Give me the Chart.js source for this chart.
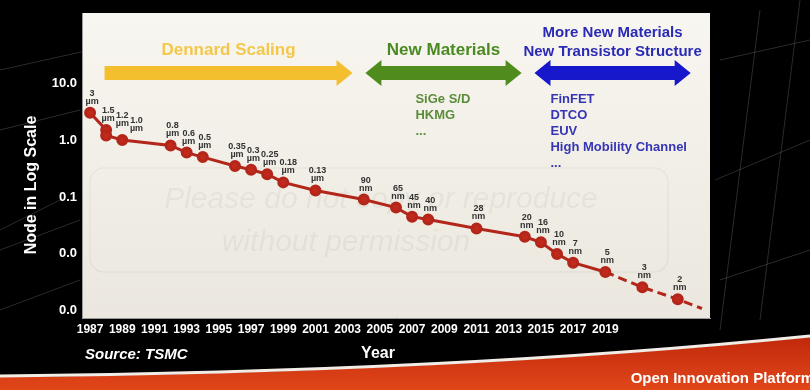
<!DOCTYPE html>
<html>
<head>
<meta charset="utf-8">
<script src="https://cdn.jsdelivr.net/npm/chart.js@4.4.0/dist/chart.umd.min.js"></script>
<style>
html,body{margin:0;padding:0;background:#000;}
#wrap{width:810px;height:390px;}
</style>
</head>
<body>
<div id="wrap"><canvas id="nodeChart"></canvas></div>
<script>
// process nodes (value in µm), last point is the dashed extrapolation end
const years=[1987,1988,1988,1989,1992,1993,1994,1996,1997,1998,1999,2001,2004,2006,2007,2008,2011,2014,2015,2016,2017,2019,2021.3,2023.5,2025];
const nodes=[3,1.5,1.2,1.0,0.8,0.6,0.5,0.35,0.3,0.25,0.18,0.13,0.09,0.065,0.045,0.04,0.028,0.02,0.016,0.01,0.007,0.0048,0.0026,0.0016,0.0011];
const nodeLabels=["3 µm","1.5 µm","1.2 µm","1.0 µm","0.8 µm","0.6 µm","0.5 µm","0.35 µm","0.3 µm","0.25 µm","0.18 µm","0.13 µm",
  "90 nm","65 nm","45 nm","40 nm","28 nm","20 nm","16 nm","10 nm","7 nm","5 nm","3 nm","2 nm",""];
const xTicks=[1987,1989,1991,1993,1995,1997,1999,2001,2003,2005,2007,2009,2011,2013,2015,2017,2019];
const yTicks=[10,1,0.1,0.01,0.001];

// eras shown as arrows over the chart
const eraNames=[["Dennard Scaling"],["New Materials"],["More New Materials","New Transistor Structure"]];
const eraFrom=[1987.9,2004.1,2014.6];
const eraTo=[2003.3,2013.8,2024.3];
const eraItems=[[],["SiGe S/D","HKMG","..."],["FinFET","DTCO","EUV","High Mobility Channel","..."]];
const eraColors=["#f4bf2e","#4f8c1d","#1717cc"];
const eraTextColors=["#f3c84a","#4a8a22","#2a2ab4"];
const eraItemColors=["#000","#5b8c3a","#3535b5"];

const FONT="'Liberation Sans', Arial, sans-serif";
const splitYear=2019;

const points=years.map((y,i)=>({x:y,y:nodes[i]}));

function arrow(ctx,x1,x2,y,color,both){
  const h=7,hh=13,hl=16;
  ctx.fillStyle=color;
  ctx.beginPath();
  if(both){
    ctx.moveTo(x1,y);
    ctx.lineTo(x1+hl,y-hh);ctx.lineTo(x1+hl,y-h);
  }else{
    ctx.moveTo(x1,y-h);
  }
  ctx.lineTo(x2-hl,y-h);ctx.lineTo(x2-hl,y-hh);ctx.lineTo(x2,y);
  ctx.lineTo(x2-hl,y+hh);ctx.lineTo(x2-hl,y+h);
  if(both){
    ctx.lineTo(x1+hl,y+h);ctx.lineTo(x1+hl,y+hh);
  }else{
    ctx.lineTo(x1,y+h);
  }
  ctx.closePath();ctx.fill();
}

const backdrop={
  id:'backdrop',
  beforeDraw(chart){
    const {ctx,chartArea:a,width:W,height:H}=chart;
    ctx.save();
    ctx.fillStyle='#000';ctx.fillRect(0,0,W,H);
    // faint streaks in the slide background
    ctx.strokeStyle='rgba(120,120,120,0.35)';ctx.lineWidth=1;
    [[0,70,90,50],[0,130,80,110],[0,250,80,220],[0,310,80,280],[0,230,60,200],
     [720,60,810,40],[715,180,810,140],[760,10,720,330],[800,0,760,320],[720,280,810,250]].forEach(l=>{
      ctx.beginPath();ctx.moveTo(l[0],l[1]);ctx.lineTo(l[2],l[3]);ctx.stroke();
    });
    // red band at bottom
    ctx.beginPath();
    ctx.moveTo(0,377);ctx.quadraticCurveTo(450,373,810,337);
    ctx.lineTo(810,H);ctx.lineTo(0,H);ctx.closePath();
    const rg=ctx.createLinearGradient(0,340,0,390);
    rg.addColorStop(0,'#c22a0c');rg.addColorStop(1,'#e2471a');
    ctx.fillStyle=rg;ctx.fill();
    ctx.beginPath();
    ctx.moveTo(0,376);ctx.quadraticCurveTo(450,372,810,336);
    ctx.strokeStyle='#f2ece6';ctx.lineWidth=3;ctx.stroke();
    // plot panel
    const g=ctx.createLinearGradient(0,a.top,0,a.bottom);
    g.addColorStop(0,'#f8f6f0');g.addColorStop(1,'#ebe7de');
    ctx.fillStyle=g;ctx.fillRect(a.left,a.top,a.right-a.left,a.bottom-a.top);
    // watermark
    ctx.strokeStyle='rgba(0,0,0,0.04)';ctx.lineWidth=1.5;
    ctx.beginPath();ctx.roundRect(a.left+8,168,578,104,14);ctx.stroke();
    ctx.fillStyle='rgba(0,0,0,0.045)';
    ctx.font='italic 30px '+FONT;ctx.textAlign='center';ctx.textBaseline='alphabetic';
    ctx.fillText('Please do not copy or reproduce',381,208);
    ctx.fillText('without permission',346,251);
    ctx.restore();
  },
  afterDatasetsDraw(chart){
    const {ctx}=chart;
    const meta=chart.getDatasetMeta(0);
    ctx.save();
    ctx.font='bold 9px '+FONT;ctx.textAlign='center';ctx.textBaseline='alphabetic';
    ctx.fillStyle='#333';
    let prev=null;
    meta.data.forEach((pt,i)=>{
      if(!nodeLabels[i])return;
      const parts=nodeLabels[i].split(' ');
      let cx=pt.x+2;const by=pt.y-9;
      const w=Math.max(ctx.measureText(parts[0]).width,ctx.measureText(parts[1]).width);
      if(prev&&cx-w/2<prev.r+1&&by-17<prev.b&&by>prev.t)cx=prev.r+1+w/2;
      ctx.fillText(parts[0],cx,by-8);
      ctx.fillText(parts[1],cx,by);
      prev={r:cx+w/2,t:by-17,b:by};
    });
    ctx.restore();
  },
  afterDraw(chart){
    const {ctx,scales:{x}}=chart;
    ctx.save();
    const ay=73;
    eraNames.forEach((names,i)=>{
      const x1=x.getPixelForValue(eraFrom[i]),x2=x.getPixelForValue(eraTo[i]);
      arrow(ctx,x1,x2,ay,eraColors[i],i>0);
      const cx=(x1+x2)/2;
      ctx.fillStyle=eraTextColors[i];ctx.textAlign='center';ctx.textBaseline='middle';
      if(names.length===1){
        ctx.font='bold 17px '+FONT;
        ctx.fillText(names[0],cx,50);
      }else{
        ctx.font='bold 15px '+FONT;
        ctx.fillText(names[0],cx,33);ctx.fillText(names[1],cx,52);
      }
      ctx.fillStyle=eraItemColors[i];ctx.textAlign='left';ctx.font='bold 13px '+FONT;
      eraItems[i].forEach((t,j)=>{
        ctx.fillText(t,x1+(i===1?50:16),99+j*16);
      });
    });
    // axis titles and source
    ctx.fillStyle='#fff';
    ctx.font='bold 16px '+FONT;ctx.textAlign='center';ctx.textBaseline='middle';
    ctx.save();ctx.translate(32,185);ctx.rotate(-Math.PI/2);ctx.fillText('Node in Log Scale',0,0);ctx.restore();
    ctx.font='bold 16px '+FONT;ctx.fillText('Year',378,354);
    ctx.font='italic bold 15px '+FONT;ctx.textAlign='left';ctx.fillText('Source: TSMC',85,355);
    ctx.font='bold 15px '+FONT;ctx.textAlign='right';ctx.fillText('Open Innovation Platform',814,379);
    ctx.restore();
  }
};

new Chart("nodeChart",{
  type:"line",
  data:{
    datasets:[{
      data:points,
      borderColor:"#b3261a",
      backgroundColor:"#c0291b",
      borderWidth:3,
      pointRadius:ctx=>ctx.dataIndex===years.length-1?0:4.5,
      pointHoverRadius:4.5,
      segment:{borderDash:c=>c.p0.parsed.x>=splitYear?[9,5]:undefined},
      tension:0
    }]
  },
  options:{
    responsive:true,
    maintainAspectRatio:false,
    animation:false,
    layout:{padding:{top:13,right:100,left:0,bottom:0}},
    plugins:{legend:{display:false},tooltip:{enabled:false}},
    scales:{
      x:{
        type:"linear",min:1986.5,max:2025.5,
        afterBuildTicks:s=>{s.ticks=xTicks.map(v=>({value:v}));},
        afterFit:s=>{s.height=72;},
        grid:{display:false,drawTicks:false},
        border:{display:true,color:"#9a9a9a",width:1},
        ticks:{color:"#fff",font:{family:FONT,weight:"bold",size:12},padding:4,maxRotation:0,autoSkip:false,
          callback:v=>String(v)}
      },
      y:{
        type:"logarithmic",min:0.00075,max:169,
        afterBuildTicks:s=>{s.ticks=yTicks.map(v=>({value:v}));},
        afterFit:s=>{s.width=82;},
        grid:{display:false,drawTicks:false},
        border:{display:true,color:"#9a9a9a",width:1},
        ticks:{color:"#fff",font:{family:FONT,weight:"bold",size:13},padding:5,
          callback:v=>Number(v).toFixed(1)}
      }
    }
  },
  plugins:[backdrop]
});
</script>
</body>
</html>
